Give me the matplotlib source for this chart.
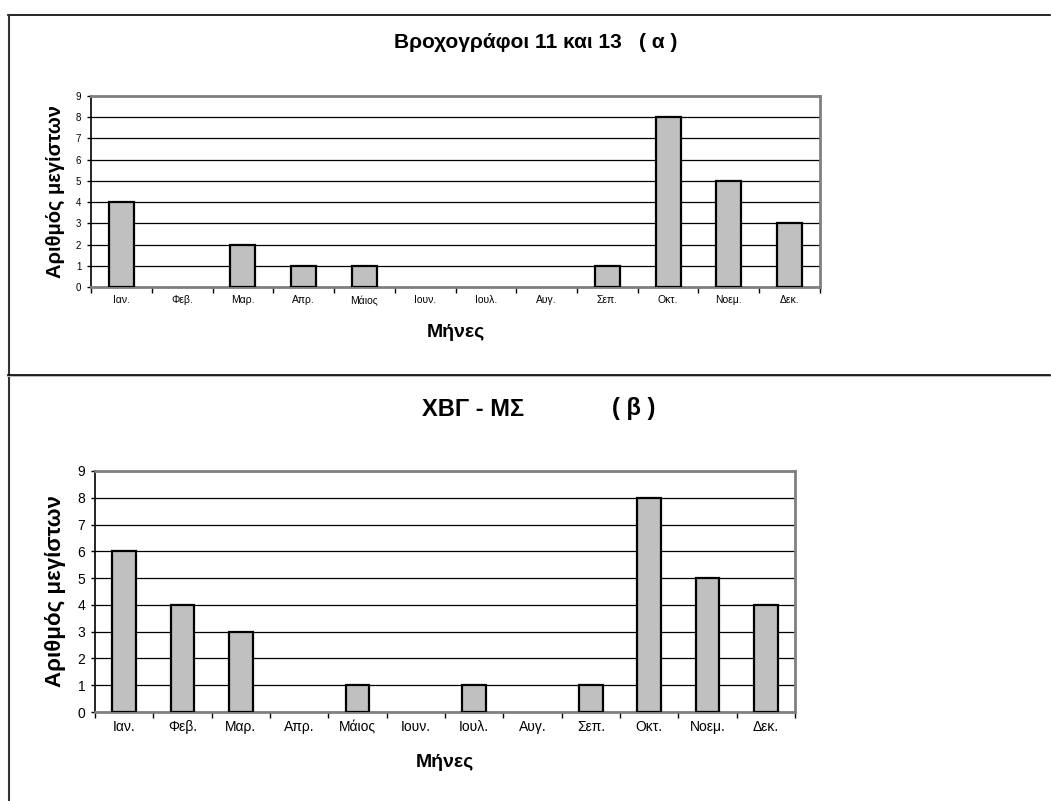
import matplotlib
matplotlib.use('Agg')
import matplotlib.pyplot as plt
from matplotlib.lines import Line2D
import numpy as np

plt.rcParams['font.family'] = ['Liberation Sans', 'DejaVu Sans']

months = ['Ιαν.', 'Φεβ.', 'Μαρ.', 'Απρ.', 'Μάιος', 'Ιουν.', 'Ιουλ.', 'Αυγ.',
          'Σεπ.', 'Οκτ.', 'Νοεμ.', 'Δεκ.']
counts_a = [4, 0, 2, 1, 1, 0, 0, 0, 1, 8, 5, 3]
counts_b = [6, 4, 3, 0, 1, 0, 1, 0, 1, 8, 5, 4]


def draw_panel(ax, values, xtick_size, ytick_size, label_size):
    x = np.arange(len(months))
    vals = np.array(values)
    ax.set_xlim(-0.5, len(months) - 0.5)
    ax.set_ylim(0, 9)
    ax.set_yticks(range(10))
    ax.yaxis.grid(True, color='black', linewidth=0.9)
    ax.set_axisbelow(True)
    # empty months get no bar at all (like the original Excel chart)
    keep = vals > 0
    ax.bar(x[keep], vals[keep], width=0.41, color='#c0c0c0', edgecolor='black',
           linewidth=1.6, zorder=3)

    # category ticks at the boundaries, labels at the centres
    ax.set_xticks(np.arange(-0.5, len(months)), [''] * (len(months) + 1))
    ax.set_xticks(x, months, minor=True)
    ax.tick_params(axis='x', which='major', length=4, width=1, color='black')
    ax.tick_params(axis='x', which='minor', length=0, labelsize=xtick_size, pad=6)
    ax.tick_params(axis='y', length=3, width=1, labelsize=ytick_size, pad=4)

    for side in ['top', 'right', 'bottom']:
        ax.spines[side].set_color('#808080')
        ax.spines[side].set_linewidth(2)
    ax.spines['left'].set_color('black')
    ax.spines['left'].set_linewidth(1.2)

    ax.set_xlabel('Μήνες', fontsize=label_size, fontweight='bold', labelpad=13)


fig = plt.figure(figsize=(10.51, 8.01), dpi=100)
W, H = 1051, 801

ax1 = fig.add_axes([0.0866, 0.6417, 0.6936, 0.2385])
draw_panel(ax1, counts_a, 7.5, 7, 14)
ax1.set_ylabel('Αριθμός μεγίστων', fontsize=14.5, fontweight='bold', labelpad=8)

ax2 = fig.add_axes([0.0904, 0.1111, 0.666, 0.3009])
draw_panel(ax2, counts_b, 10, 10, 14)
ax2.set_ylabel('Αριθμός μεγίστων', fontsize=16, fontweight='bold', labelpad=8)
ax2.xaxis.labelpad = 14

fig.text(536 / W, 1 - 42 / H, 'Βροχογράφοι 11 και 13   ( α )', ha='center',
         va='center', fontsize=15, fontweight='bold')
fig.text(422 / W, 1 - 409 / H, 'ΧΒΓ - ΜΣ', ha='left',
         va='center', fontsize=17, fontweight='bold')
fig.text(655 / W, 1 - 409 / H, '( β )', ha='right',
         va='center', fontsize=17, fontweight='bold')

# page frame lines
fig.add_artist(Line2D([8 / W, 1050 / W], [1 - 15 / H, 1 - 15 / H],
                      color='black', linewidth=1.2))
fig.add_artist(Line2D([9 / W, 9 / W], [1 - 15 / H, 0], color='#333333',
                      linewidth=1.5))
fig.add_artist(Line2D([8 / W, 1050 / W], [1 - 376 / H, 1 - 376 / H],
                      color='#bbbbbb', linewidth=1.5))
fig.add_artist(Line2D([8 / W, 1050 / W], [1 - 375 / H, 1 - 375 / H],
                      color='black', linewidth=1.2))

fig.savefig('out.png', dpi=100)
